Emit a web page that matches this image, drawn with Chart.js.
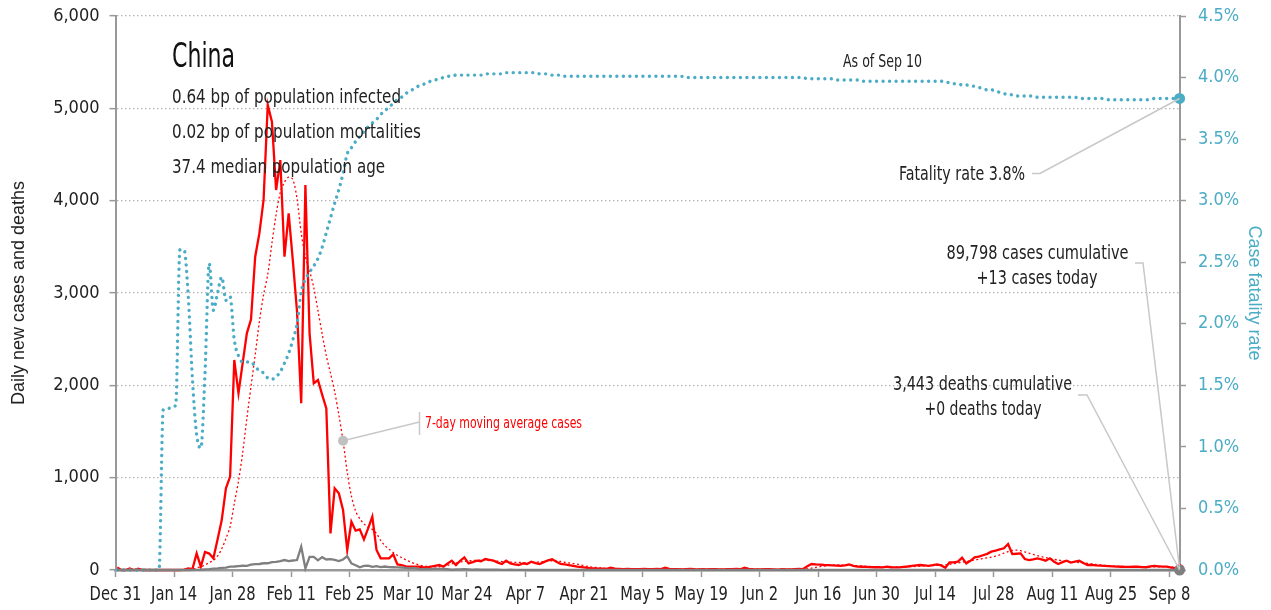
<!DOCTYPE html>
<html>
<head>
<meta charset="utf-8">
<script src="https://cdn.jsdelivr.net/npm/chart.js@4.4.1/dist/chart.umd.min.js"></script>
<style>
html,body{margin:0;padding:0;background:#fff;}
#wrap{position:relative;width:1271px;height:610px;}
</style>
</head>
<body>
<div id="wrap"><canvas id="c"></canvas></div>
<script>
// ---- DATA (day 0 = Dec 31, last = Sep 10) ----
const X_TICK_LABELS = ['Dec 31','Jan 14','Jan 28','Feb 11','Feb 25','Mar 10','Mar 24','Apr 7','Apr 21','May 5','May 19','Jun 2','Jun 16','Jun 30','Jul 14','Jul 28','Aug 11','Aug 25','Sep 8'];

const DAILY_CASES = [
27,0,0,17,0,15,0,0,0,0,
0,0,0,0,1,0,4,17,10,180,
36,195,178,127,330,541,885,1011,2275,1914,
2240,2563,2715,3393,3647,4007,5036,4856,4115,4440,
3393,3863,3350,2800,1806,4170,2563,2022,2058,1900,
1751,397,885,830,650,217,523,426,440,332,
450,577,217,127,125,127,170,60,54,40,
36,36,36,30,28,36,45,54,36,70,
101,54,100,137,72,85,101,95,119,110,
101,80,65,101,72,60,54,72,65,90,
75,65,85,105,116,90,65,60,54,45,
36,30,25,20,18,15,14,12,25,14,
12,10,12,10,8,10,12,9,8,12,
10,25,12,10,8,7,10,12,8,7,
9,6,8,10,7,6,8,10,12,8,
25,12,8,6,7,10,8,6,5,8,
7,6,10,12,10,40,65,60,58,54,
52,50,48,45,50,61,45,36,35,33,
32,30,30,29,36,30,28,29,33,38,
45,50,54,50,45,52,61,50,25,83,
83,90,134,72,100,137,145,160,175,199,
210,224,235,282,173,176,180,119,108,115,
126,115,101,126,90,65,85,101,80,90,
101,75,54,55,50,48,45,42,40,36,
35,34,33,35,36,32,30,38,45,40,
36,36,25,20,13
];

const MA7_CASES = [
4,4,4,6,6,8,8,5,3,2,
0,0,0,0,0,0,1,3,5,25,
33,55,80,105,150,230,340,470,720,960,
1270,1640,1990,2330,2690,2980,3200,3540,3850,4090,
4200,4255,4230,4020,3650,3390,3240,3060,2810,2560,
2320,2130,1930,1680,1400,1060,800,640,555,500,
460,440,395,320,265,225,190,158,135,110,
90,70,57,47,40,37,35,35,40,50,
65,77,87,93,98,102,105,107,107,103,
99,95,91,87,85,83,82,81,80,81,
84,87,91,95,100,99,92,84,76,70,
64,54,43,34,29,25,21,18,16,15,
14,13,13,12,12,11,11,11,10,10,
12,12,12,11,10,10,10,9,9,9,
9,8,8,8,8,8,8,9,9,10,
11,11,10,9,8,8,8,7,7,7,
7,8,8,9,10,13,20,28,36,43,
49,52,54,54,53,51,49,47,44,41,
38,36,34,32,31,31,31,32,33,35,
37,39,42,44,46,48,50,51,55,62,
69,77,85,92,100,108,116,124,132,139,
150,163,182,200,213,216,209,195,182,169,
156,144,134,124,115,107,100,94,89,85,
81,77,72,66,60,54,50,46,43,41,
39,37,35,34,33,32,32,33,34,35,
36,35,33,29,26
];

const DAILY_DEATHS = [
0,0,0,0,0,0,0,0,0,0,
0,1,0,0,0,0,1,0,1,1,
3,6,9,15,18,24,26,36,38,43,
46,45,57,64,65,73,73,86,89,97,
108,97,103,108,252,18,143,142,105,139,
114,118,109,97,114,150,71,52,29,44,
47,35,42,31,38,31,30,28,27,22,
17,22,11,7,13,10,14,13,11,8,
3,7,6,9,7,4,6,5,3,5,
4,4,1,2,3,1,2,1,0,1,
0,1,0,1,0,0,1,0,0,0,
0,0,0,0,0,0,0,0,0,0,
0,0,0,0,0,0,0,0,0,0,
0,0,0,0,0,0,0,0,0,0,
0,0,0,0,0,0,0,0,0,0,
0,0,0,0,0,0,0,0,0,0,
0,0,0,0,0,0,0,0,0,0,
0,0,0,0,0,0,0,0,0,0,
0,0,0,0,0,0,0,0,0,0,
0,0,0,0,0,0,0,0,0,0,
0,0,0,0,0,0,0,0,0,0,
0,0,0,0,0,0,0,0,0,0,
0,0,0,0,0,0,0,0,0,0,
0,0,0,0,0,0,0,0,0,0,
0,0,0,0,0,0,0,0,0,0,
0,0,0,0,0
];

const CASE_FATALITY_PCT = [
0,0,0,0,0,0,0,0,0,0,
0,1.30,1.31,1.32,1.34,2.60,2.60,2.22,1.55,1.10,
0.99,1.60,2.49,2.11,2.25,2.38,2.19,2.22,1.87,1.74,
1.69,1.69,1.69,1.65,1.62,1.60,1.56,1.55,1.57,1.61,
1.68,1.76,1.87,2.00,2.26,2.36,2.42,2.47,2.53,2.62,
2.74,2.86,2.98,3.09,3.22,3.38,3.43,3.48,3.52,3.56,
3.60,3.63,3.66,3.70,3.73,3.76,3.79,3.82,3.84,3.87,
3.89,3.91,3.93,3.94,3.96,3.97,3.98,3.99,4.00,4.01,
4.01,4.02,4.02,4.02,4.02,4.02,4.02,4.02,4.03,4.03,
4.03,4.03,4.03,4.04,4.04,4.04,4.04,4.04,4.04,4.04,
4.04,4.03,4.03,4.03,4.02,4.02,4.02,4.01,4.01,4.01,
4.01,4.01,4.01,4.01,4.01,4.01,4.01,4.01,4.01,4.01,
4.01,4.01,4.01,4.01,4.01,4.01,4.01,4.01,4.01,4.01,
4.01,4.01,4.01,4.01,4.01,4.01,4.00,4.00,4.00,4.00,
4.00,4.00,4.00,4.00,4.00,4.00,4.00,4.00,4.00,4.00,
4.00,4.00,4.00,4.00,4.00,4.00,4.00,4.00,4.00,4.00,
4.00,4.00,4.00,4.00,4.00,3.99,3.99,3.99,3.99,3.99,
3.99,3.99,3.98,3.98,3.98,3.98,3.98,3.98,3.97,3.97,
3.97,3.97,3.97,3.97,3.97,3.97,3.97,3.97,3.97,3.97,
3.97,3.97,3.97,3.97,3.97,3.97,3.97,3.97,3.96,3.96,
3.95,3.95,3.94,3.94,3.93,3.93,3.92,3.91,3.90,3.90,
3.89,3.88,3.87,3.86,3.86,3.85,3.85,3.85,3.85,3.85,
3.84,3.84,3.84,3.84,3.84,3.84,3.84,3.84,3.84,3.84,
3.83,3.83,3.83,3.83,3.83,3.83,3.83,3.82,3.82,3.82,
3.82,3.82,3.82,3.82,3.82,3.82,3.82,3.82,3.83,3.83,
3.83,3.83,3.83,3.83,3.83
];

const COUNTRY = 'China';
const INFO_LINES = ['0.64 bp of population infected','0.02 bp of population mortalities','37.4 median population age'];
const AS_OF = 'As of Sep 10';
const FATALITY_LABEL = 'Fatality rate 3.8%';
const CASES_LABEL = ['89,798 cases cumulative','+13 cases today'];
const DEATHS_LABEL = ['3,443 deaths cumulative','+0 deaths today'];
const MA_LABEL = '7-day moving average cases';
const MA_LABEL_DAY = 54;

// ---- STYLE ----
const FONT = "'DejaVu Sans Condensed','Liberation Sans Narrow','Arial Narrow',sans-serif";
const TITLE_FONT = "'Liberation Sans',Arial,sans-serif";
const TEAL = '#4bacc6';
const RED = '#ff0000';
const GREY = '#7f7f7f';
const LEADER = '#c8c8c8';
const DAYS = DAILY_CASES.map((_, i) => i);
const LAST = DAYS.length - 1;
const DATE_OFFSET = -0.4; // date ticks sit slightly before the daily points

Chart.defaults.font.family = FONT;
Chart.defaults.color = '#222';

// draw text horizontally compressed (condensed look)
function fitText(ctx, text, x, y, width, align) {
  const w = ctx.measureText(text).width;
  const s = Math.min(1, width / w);
  ctx.save();
  let left = x;
  if (align === 'right') left = x - w * s;
  else if (align === 'center') left = x - w * s / 2;
  ctx.translate(left, y);
  ctx.scale(s, 1);
  ctx.textAlign = 'left';
  ctx.fillText(text, 0, 0);
  ctx.restore();
}
function condensedText(ctx, text, x, y, s, align) {
  const w = ctx.measureText(text).width;
  fitText(ctx, text, x, y, w * s, align);
}

const annotations = {
  id: 'annotations',
  afterDraw(chart) {
    const {ctx, scales: {x}} = chart;
    ctx.save();
    ctx.fillStyle = '#222';
    ctx.font = '19px ' + FONT;
    ctx.textBaseline = 'alphabetic';
    x.ticks.forEach((t, i) => {
      condensedText(ctx, X_TICK_LABELS[i], x.getPixelForValue(t.value), 600, 0.86, 'center');
    });
    ctx.restore();
  },
  afterDatasetsDraw(chart) {
    const {ctx, scales: {x, y, y1}} = chart;
    ctx.save();
    ctx.textBaseline = 'alphabetic';
    ctx.fillStyle = '#111';
    ctx.font = '500 33px ' + FONT;
    fitText(ctx, COUNTRY, 172, 67, 63, 'left');
    ctx.fillStyle = '#222';
    ctx.font = '20px ' + FONT;
    fitText(ctx, INFO_LINES[0], 172, 103, 229, 'left');
    fitText(ctx, INFO_LINES[1], 172, 137.5, 249, 'left');
    fitText(ctx, INFO_LINES[2], 172, 172.5, 213, 'left');
    ctx.font = '17px ' + FONT;
    fitText(ctx, AS_OF, 843, 67, 79, 'left');

    ctx.strokeStyle = LEADER;
    ctx.lineWidth = 1.5;
    const ex = x.getPixelForValue(LAST);
    const fy = y1.getPixelForValue(CASE_FATALITY_PCT[LAST]);
    ctx.beginPath(); ctx.moveTo(1032, 173.5); ctx.lineTo(1040, 173.5); ctx.lineTo(ex, fy); ctx.stroke();
    const cy = y.getPixelForValue(DAILY_CASES[LAST]);
    ctx.beginPath(); ctx.moveTo(1135, 263); ctx.lineTo(1143, 263); ctx.lineTo(ex, cy); ctx.stroke();
    const dy = y.getPixelForValue(DAILY_DEATHS[LAST]);
    ctx.beginPath(); ctx.moveTo(1078, 395); ctx.lineTo(1087, 395); ctx.lineTo(ex, dy); ctx.stroke();
    const mx = x.getPixelForValue(MA_LABEL_DAY), my = y.getPixelForValue(MA7_CASES[MA_LABEL_DAY]);
    ctx.beginPath(); ctx.moveTo(mx, my); ctx.lineTo(419.5, 422); ctx.stroke();
    ctx.beginPath(); ctx.moveTo(419.5, 412); ctx.lineTo(419.5, 435); ctx.stroke();
    ctx.fillStyle = '#c0c0c0';
    ctx.beginPath(); ctx.arc(mx, my, 5, 0, Math.PI * 2); ctx.fill();

    ctx.fillStyle = '#222';
    ctx.font = '20px ' + FONT;
    fitText(ctx, FATALITY_LABEL, 1025, 180, 126, 'right');
    fitText(ctx, CASES_LABEL[0], 1037.5, 258.5, 182, 'center');
    fitText(ctx, CASES_LABEL[1], 1037, 283.5, 121, 'center');
    fitText(ctx, DEATHS_LABEL[0], 982.5, 390, 179, 'center');
    fitText(ctx, DEATHS_LABEL[1], 983, 415, 117, 'center');
    ctx.fillStyle = RED;
    ctx.font = '16px ' + FONT;
    fitText(ctx, MA_LABEL, 425, 428, 157, 'left');
    ctx.restore();
  }
};

const lastOnly = r => (c => c.dataIndex === LAST ? r : 0);
const noVerticalPad = s => { s.paddingTop = 0; s.paddingBottom = 0; };

new Chart(document.getElementById('c'), {
  type: 'line',
  data: {
    labels: DAYS,
    datasets: [
      {label: 'Daily cases', data: DAILY_CASES, yAxisID: 'y', borderColor: RED, backgroundColor: RED,
       borderWidth: 2.3, pointRadius: lastOnly(4.5), pointBorderWidth: 0, tension: 0, clip: false, order: 2},
      {label: 'Case fatality rate', data: CASE_FATALITY_PCT, yAxisID: 'y1', borderColor: TEAL, backgroundColor: TEAL,
       borderWidth: 3.4, borderDash: [0.01, 6.5], borderCapStyle: 'round', cubicInterpolationMode: 'monotone',
       pointRadius: lastOnly(5.5), pointBorderWidth: 0, clip: false, order: 1},
      {label: '7-day average', data: MA7_CASES, yAxisID: 'y', borderColor: RED, borderWidth: 1.3,
       borderDash: [2, 2.5], pointRadius: 0, tension: 0.3, order: 3},
      {label: 'Daily deaths', data: DAILY_DEATHS, yAxisID: 'y', borderColor: GREY, backgroundColor: GREY,
       borderWidth: 2.3, pointRadius: lastOnly(5.5), pointBorderWidth: 0, tension: 0, clip: false, order: 0}
    ]
  },
  options: {
    responsive: true, maintainAspectRatio: false, animation: false,
    layout: {padding: {top: 16, left: 0, right: 0, bottom: 0}},
    plugins: {legend: {display: false}, tooltip: {enabled: false}},
    scales: {
      x: {
        type: 'linear', min: DATE_OFFSET, max: LAST + 0.1,
        afterBuildTicks: s => { s.ticks = X_TICK_LABELS.map((_, i) => ({value: i * 14 + DATE_OFFSET})); },
        afterFit: s => { s.height = 40; },
        ticks: {display: false},
        grid: {drawOnChartArea: false, drawTicks: true, tickLength: 7, tickColor: '#999', tickWidth: 1.5},
        border: {display: true, color: '#999', width: 2.5}
      },
      y: {
        position: 'left', min: 0, max: 6000,
        afterFit: s => { s.width = 115.5; noVerticalPad(s); },
        ticks: {stepSize: 1000, callback: v => v.toLocaleString('en-US'), font: {size: 18}, color: '#222', padding: 10},
        grid: {color: '#b5b5b5', lineWidth: 1.3, tickLength: 6, tickColor: '#999', tickWidth: 1.5, tickBorderDash: []},
        border: {display: true, color: '#999', width: 2, dash: [1.5, 2.5]},
        title: {display: true, text: 'Daily new cases and deaths', font: {size: 18, family: TITLE_FONT}, color: '#222', padding: {top: 8, bottom: 0}}
      },
      y1: {
        position: 'right', min: 0, max: 4.5,
        afterFit: s => { s.width = 91; noVerticalPad(s); },
        ticks: {stepSize: 0.5, callback: v => v.toFixed(1) + '%', font: {size: 18}, color: TEAL, padding: 12},
        grid: {drawOnChartArea: false, tickLength: 6, tickColor: '#999', tickWidth: 1.5},
        border: {display: true, color: '#999', width: 2},
        title: {display: true, text: 'Case fatality rate', font: {size: 18, family: TITLE_FONT}, color: TEAL, padding: {top: 6, bottom: 0}}
      }
    }
  },
  plugins: [annotations]
});
</script>
</body>
</html>
